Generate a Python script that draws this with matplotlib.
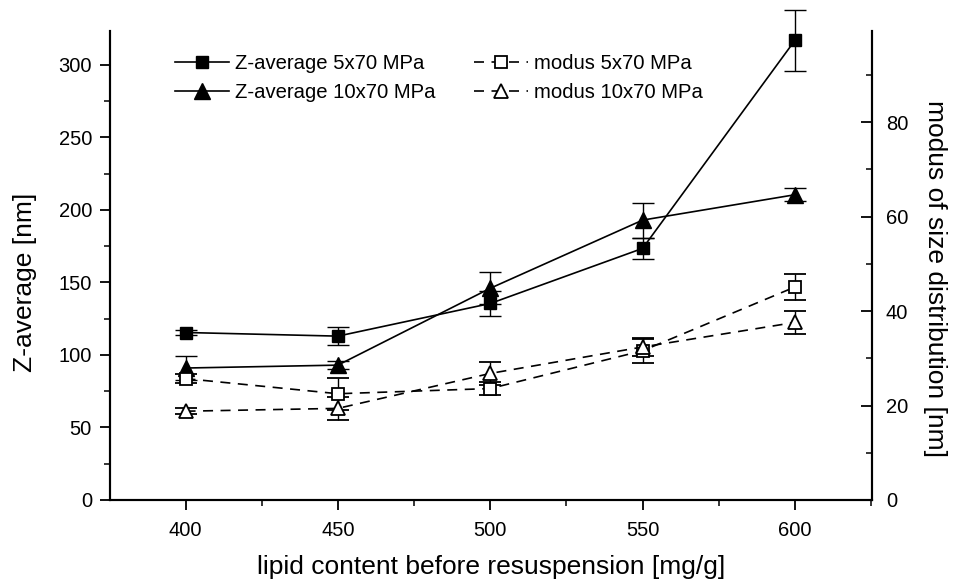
import numpy as np
import matplotlib
matplotlib.use("Agg")
import matplotlib.pyplot as plt
from matplotlib.ticker import MultipleLocator

plt.rcParams['font.family'] = ['Liberation Sans', 'DejaVu Sans']

lipid = [400, 450, 500, 550, 600]

z_5x70 = [115.5, 113, 135.5, 173.5, 317]
z_5x70_err = [2, 6, 8.5, 7, 21]
z_10x70 = [91, 93, 146, 193, 210.5]
z_10x70_err = [8, 3, 11, 12, 4.5]

mod_5x70 = [25.7, 22.5, 23.6, 31.6, 45.1]
mod_5x70_err = [1, 3.4, 1.3, 2.5, 2.7]
mod_10x70 = [18.8, 19.4, 26.8, 32.4, 37.6]
mod_10x70_err = [0.6, 2.4, 2.5, 2, 2.5]

labels = ['Z-average 5x70 MPa', 'Z-average 10x70 MPa',
          'modus 5x70 MPa', 'modus 10x70 MPa']


def main():
    fig = plt.figure(figsize=(9.54, 5.85), dpi=100)
    ax = fig.add_axes([0.1153, 0.1453, 0.7988, 0.8017])
    ax2 = ax.twinx()

    eb = dict(color='black', lw=1.2, ecolor='black', elinewidth=1,
              capsize=8, capthick=1)
    dash = (0, (6, 4.5))

    h1 = ax.errorbar(lipid, z_5x70, yerr=z_5x70_err, marker='s', ms=9,
                     mfc='black', mec='black', ls='-', **eb)
    h2 = ax.errorbar(lipid, z_10x70, yerr=z_10x70_err, marker='^', ms=11,
                     mfc='black', mec='black', ls='-', **eb)
    h3 = ax2.errorbar(lipid, mod_5x70, yerr=mod_5x70_err, marker='s', ms=8,
                      mfc='white', mec='black', mew=1.3, ls=dash, **eb)
    h4 = ax2.errorbar(lipid, mod_10x70, yerr=mod_10x70_err, marker='^', ms=10,
                      mfc='white', mec='black', mew=1.3, ls=dash, **eb)

    # the top error bar reaches above the axes in the original
    for h in (h1, h2, h3, h4):
        for art in h.get_children():
            art.set_clip_on(False)

    ax.set_xlim(375.2, 625.3)
    ax.set_ylim(0, 323.4)
    ax2.set_ylim(0, 99.3)

    for a in (ax, ax2):
        a.spines['top'].set_visible(False)
        for s in a.spines.values():
            s.set_linewidth(1.5)

    ax.xaxis.set_major_locator(MultipleLocator(50))
    ax.xaxis.set_minor_locator(MultipleLocator(25))
    ax.yaxis.set_major_locator(MultipleLocator(50))
    ax.yaxis.set_minor_locator(MultipleLocator(25))
    ax2.yaxis.set_major_locator(MultipleLocator(20))
    ax2.yaxis.set_minor_locator(MultipleLocator(10))

    ax.tick_params(axis='both', which='major', direction='out', length=7,
                   width=1.3, labelsize=14.5)
    ax.tick_params(axis='x', which='major', pad=8)
    ax.tick_params(axis='y', which='major', pad=6)
    ax.tick_params(axis='both', which='minor', direction='out', length=4,
                   width=1.1)
    ax.tick_params(axis='y', right=False)
    ax2.tick_params(axis='y', which='major', direction='in', length=8,
                    width=1.3, labelsize=14.5, pad=10)
    ax2.tick_params(axis='y', which='minor', direction='in', length=4,
                    width=1.1)

    ax.set_xlabel('lipid content before resuspension [mg/g]', fontsize=19,
                  labelpad=11)
    ax.set_ylabel('Z-average [nm]', fontsize=19)
    ax.yaxis.set_label_coords(-0.096, 0.465)
    ax2.set_ylabel('modus of size distribution [nm]', fontsize=19,
                   rotation=270, va='bottom')
    ax2.yaxis.set_label_coords(1.067, 0.473)

    ax2.legend([h1[0], h2[0], h3[0], h4[0]], labels, ncol=2, frameon=False,
               fontsize=14.6, loc='upper left',
               bbox_to_anchor=(0.061, 0.99), handlelength=2.66,
               handletextpad=0.3, columnspacing=1.9, labelspacing=0.49,
               numpoints=1)

    fig.savefig('out.png', dpi=100)


if __name__ == '__main__':
    main()
